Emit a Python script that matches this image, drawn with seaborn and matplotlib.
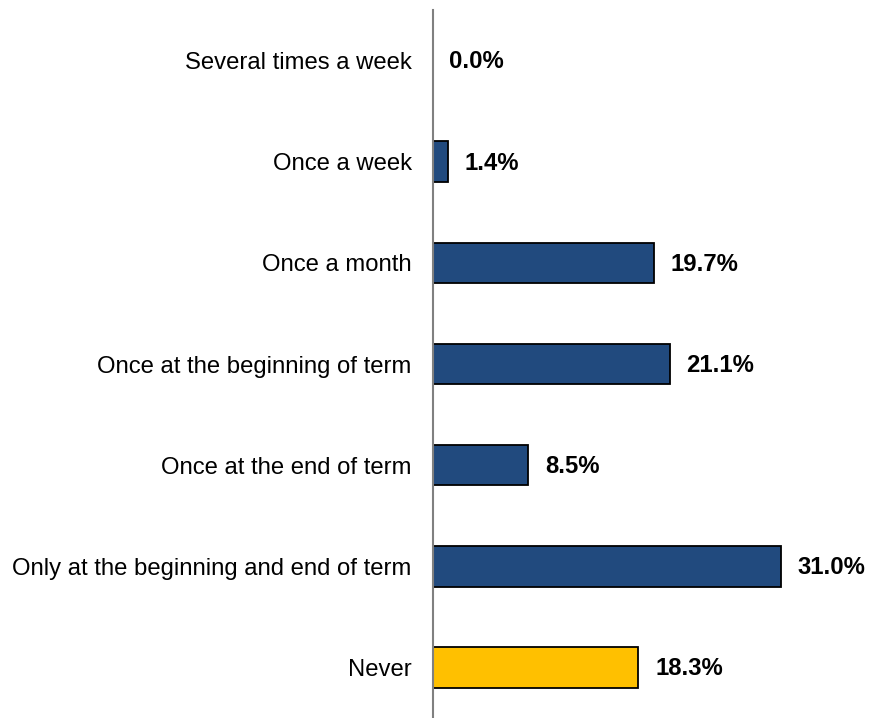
import matplotlib
matplotlib.use("Agg")
import matplotlib.pyplot as plt
import seaborn as sns
import pandas as pd

categories = [
    "Several times a week",
    "Once a week",
    "Once a month",
    "Once at the beginning of term",
    "Once at the end of term",
    "Only at the beginning and end of term",
    "Never",
]
values = [0.0, 1.4, 19.7, 21.1, 8.5, 31.0, 18.3]
bar_colors = ["#214A7E"] * 6 + ["#FFC000"]

sns.set_theme(style="white")
plt.rcParams["font.family"] = ["Liberation Sans", "DejaVu Sans"]

df = pd.DataFrame({"category": categories, "value": values})

fig = plt.figure(figsize=(8.69, 7.18), dpi=100)
ax = fig.add_axes([432.5 / 869, 0, (869 - 432.5) / 869, 708 / 718])

sns.barplot(
    data=df, x="value", y="category", hue="category",
    palette=bar_colors, saturation=1, legend=False, orient="h",
    width=0.4, edgecolor="black", linewidth=1.3, ax=ax,
)

ax.set_xlim(0, 38.8)
ax.set_ylim(6.5, -0.5)
ax.set_xlabel("")
ax.set_ylabel("")
ax.set_xticks([])
ax.tick_params(axis="y", length=0, pad=15, labelsize=17.2, labelcolor="black")

for side in ["top", "right", "bottom"]:
    ax.spines[side].set_visible(False)
ax.spines["left"].set_color("#808080")
ax.spines["left"].set_linewidth(1.5)

for i, v in enumerate(values):
    ax.annotate(f"{v:.1f}%", xy=(v, i), xytext=(12, -1), textcoords="offset points",
                va="center", ha="left", fontsize=17.2, fontweight="bold", color="black")

fig.savefig("out.png", dpi=100)
